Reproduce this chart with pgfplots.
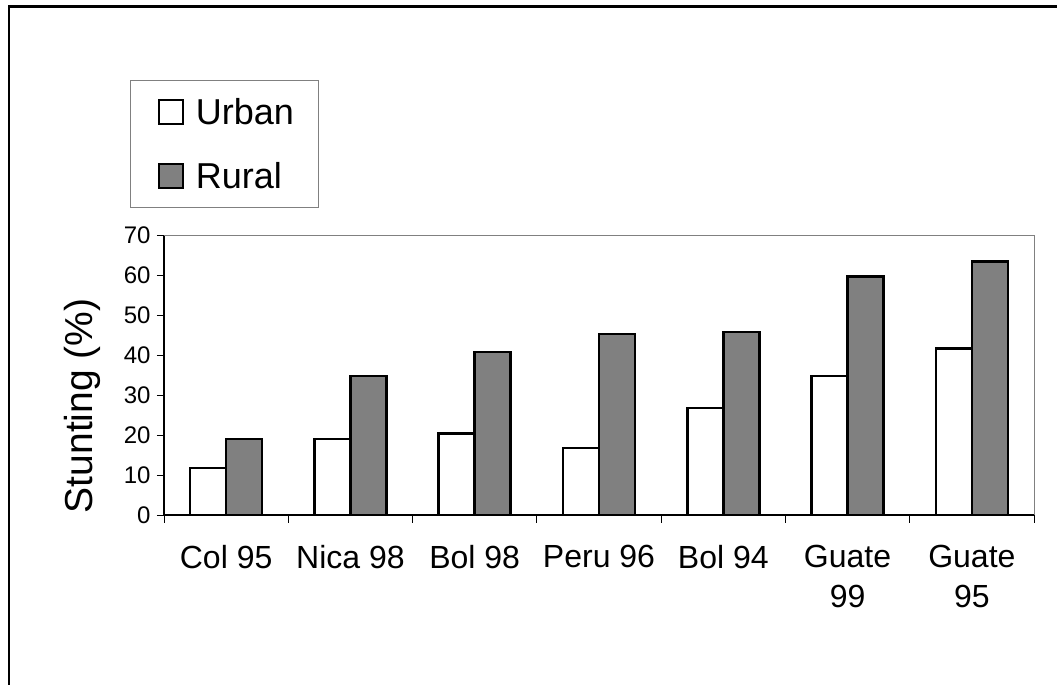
\documentclass[border=0pt]{standalone}
\usepackage{fontspec}
\setmainfont{Liberation Sans}
\usepackage{pgfplots}
\pgfplotsset{compat=1.18}
\definecolor{rural}{RGB}{128,128,128}
\begin{document}
\begin{tikzpicture}[x=1pt,y=1pt]
\path[use as bounding box] (0,0) rectangle (1057,685);
\draw[line width=2.5pt] (9,-2) -- (9,678.5) -- (1060,678.5);
\begin{axis}[
    at={(164pt,170pt)}, anchor=south west,
    scale only axis, width=870pt, height=280pt,
    ybar=0pt, bar width=36pt,
    xmin=-0.5, xmax=6.5, ymin=0, ymax=70,
    ytick={0,10,...,70},
    xtick={0,...,6},
    xticklabels={{Col 95},{Nica 98},{Bol 98},{Peru 96},{Bol 94},{Guate\\99},{Guate\\95}},
    minor xtick={-0.5,0.5,...,6.5},
    tick align=outside,
    major x tick style={draw=none},
    major tick length=7pt, minor tick length=8pt,
    tick style={black, line width=0.8pt},
    axis x line*=bottom, axis y line*=left,
    axis line style={black, line width=1.2pt},
    /pgf/number format/assume math mode=true,
    yticklabel style={font=\fontsize{24}{28}\selectfont, xshift=-3pt},
    xticklabel style={font=\fontsize{32}{40}\selectfont, align=center, yshift=-20pt},
    ylabel={Stunting (\%)},
    ylabel style={font=\fontsize{39}{44}\selectfont, at={(axis description cs:-0.0943,0.39)}, anchor=center},
    legend style={at={(axis description cs:-0.039,1.5536)}, anchor=north west,
        draw=gray, line width=0.8pt, font=\fontsize{36}{40}\selectfont,
        inner xsep=21pt, inner ysep=15pt, nodes={inner sep=3pt}, row sep=30pt},
    legend cell align=left,
    legend image code/.code={\draw[#1, line width=2pt] (6pt,-12pt) rectangle (30pt,12pt); \path (0pt,0pt) (39pt,0pt);},
    every axis plot/.append style={draw=black, line width=2.5pt},
    after end axis/.code={\draw[gray, line width=0.8pt] (rel axis cs:0,1) -- (rel axis cs:1,1) -- (rel axis cs:1,0);},
]
\addplot[fill=white] coordinates {(0,11.7) (1,19) (2,20.4) (3,16.8) (4,26.8) (5,34.8) (6,41.6)};
\addplot[fill=rural] coordinates {(0,19) (1,34.8) (2,40.7) (3,45.2) (4,45.7) (5,59.6) (6,63.4)};
\legend{Urban, Rural}
\end{axis}
\end{tikzpicture}
\end{document}
